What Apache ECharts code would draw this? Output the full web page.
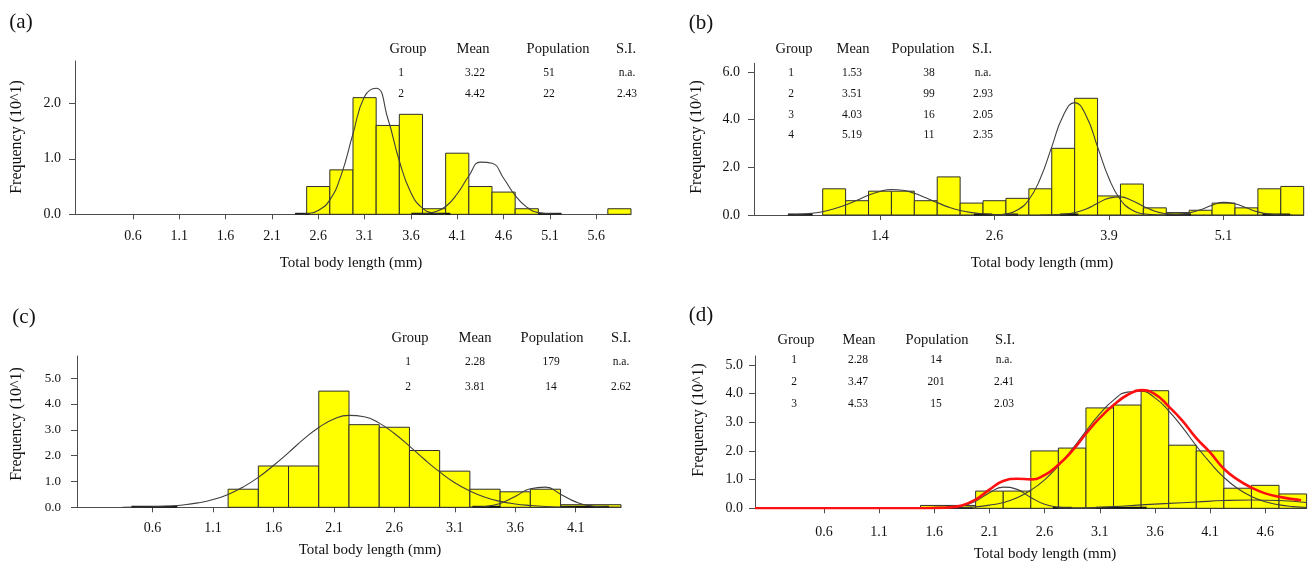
<!DOCTYPE html>
<html>
<head>
<meta charset="utf-8">
<script src="https://cdn.jsdelivr.net/npm/echarts@6/dist/echarts.min.js"></script>
<style>
  html, body { margin: 0; padding: 0; background: #fff; }
  #chart { width: 1312px; height: 562px; }
</style>
</head>
<body>
<div id="chart"></div>
<script>
// Length-frequency histograms of total body length (0.25 mm classes)
// with the fitted normal components of each cohort.
const binWidth = 0.25;

// ---- (a) ----
const binStartA = 2.5;
const freqA = [0.5, 0.8, 2.1, 1.6, 1.8, 0.1, 1.1, 0.5, 0.4, 0.1, 0, 0, 0, 0.1];
const xTicksA = [0.625, 1.125, 1.625, 2.125, 2.625, 3.125, 3.625, 4.125, 4.625, 5.125, 5.625];
const xLabelsA = ['0.6', '1.1', '1.6', '2.1', '2.6', '3.1', '3.6', '4.1', '4.6', '5.1', '5.6'];
const yTicksA = [0, 1, 2];
const tableA = [['1', '3.22', '51', 'n.a.'], ['2', '4.42', '22', '2.43']];
const curveA1 = [[2.375, 0], [2.5, 0.01], [2.625, 0.07], [2.75, 0.26], [2.875, 0.72], [3.0, 1.45], [3.125, 2.12], [3.25, 2.27], [3.375, 1.73], [3.5, 0.96], [3.625, 0.39], [3.75, 0.11], [3.875, 0.02], [4.0, 0]];
const curveA2 = [[3.625, 0], [3.75, 0.01], [3.875, 0.04], [4.0, 0.14], [4.125, 0.37], [4.25, 0.69], [4.375, 0.94], [4.5, 0.92], [4.625, 0.65], [4.75, 0.34], [4.875, 0.13], [5.0, 0.03], [5.125, 0.01], [5.25, 0]];
const tailsA = [[2.375, 2.53], [3.63, 4.05], [5.0, 5.25]];

// ---- (b) ----
const binStartB = 0.75;
const freqB = [1.1, 0.6, 1.0, 1.0, 0.6, 1.6, 0.5, 0.6, 0.7, 1.1, 2.8, 4.9, 0.8, 1.3, 0.3, 0.1, 0.2, 0.5, 0.3, 1.1, 1.2];
const xTicksB = [1.375, 2.625, 3.875, 5.125];
const xLabelsB = ['1.4', '2.6', '3.9', '5.1'];
const yTicksB = [0, 2, 4, 6];
const tableB = [['1', '1.53', '38', 'n.a.'], ['2', '3.51', '99', '2.93'], ['3', '4.03', '16', '2.05'], ['4', '5.19', '11', '2.35']];
const curveB1 = [[0.375, 0], [0.5, 0.03], [0.625, 0.07], [0.75, 0.14], [0.875, 0.26], [1.0, 0.42], [1.125, 0.62], [1.25, 0.83], [1.375, 0.99], [1.5, 1.07], [1.625, 1.04], [1.75, 0.91], [1.875, 0.72], [2.0, 0.52], [2.125, 0.33], [2.25, 0.19], [2.375, 0.10], [2.5, 0.05], [2.625, 0.02], [2.75, 0.01], [2.875, 0]];
const curveB2 = [[2.625, 0], [2.75, 0.05], [2.875, 0.21], [3.0, 0.64], [3.125, 1.53], [3.25, 2.86], [3.375, 4.17], [3.5, 4.72], [3.625, 4.17], [3.75, 2.86], [3.875, 1.53], [4.0, 0.64], [4.125, 0.21], [4.25, 0.05], [4.375, 0.01], [4.5, 0]];
const curveB3 = [[3.125, 0], [3.25, 0.01], [3.375, 0.03], [3.5, 0.10], [3.625, 0.25], [3.75, 0.49], [3.875, 0.71], [4.0, 0.76], [4.125, 0.61], [4.25, 0.37], [4.375, 0.16], [4.5, 0.05], [4.625, 0.01], [4.75, 0]];
const curveB4 = [[4.5, 0], [4.625, 0.02], [4.75, 0.09], [4.875, 0.22], [5.0, 0.41], [5.125, 0.53], [5.25, 0.47], [5.375, 0.30], [5.5, 0.13], [5.625, 0.04], [5.75, 0.01], [5.875, 0]];
const tailsB = [[0.37, 0.64], [2.4, 2.6], [2.75, 2.88], [3.34, 3.54], [4.5, 4.77], [5.55, 5.85]];

// ---- (c) ----
const binStartC = 1.25;
const freqC = [0.7, 1.6, 1.6, 4.5, 3.2, 3.1, 2.2, 1.4, 0.7, 0.6, 0.7, 0.1, 0.1];
const xTicksC = [0.625, 1.125, 1.625, 2.125, 2.625, 3.125, 3.625, 4.125];
const xLabelsC = ['0.6', '1.1', '1.6', '2.1', '2.6', '3.1', '3.6', '4.1'];
const yTicksC = [0, 1, 2, 3, 4, 5];
const tableC = [['1', '2.28', '179', 'n.a.'], ['2', '3.81', '14', '2.62']];
const curveC1 = [[0.375, 0], [0.5, 0.01], [0.625, 0.02], [0.75, 0.05], [0.875, 0.09], [1.0, 0.17], [1.125, 0.30], [1.25, 0.50], [1.375, 0.79], [1.5, 1.16], [1.625, 1.62], [1.75, 2.12], [1.875, 2.64], [2.0, 3.09], [2.125, 3.42], [2.25, 3.56], [2.375, 3.51], [2.5, 3.26], [2.625, 2.86], [2.75, 2.37], [2.875, 1.85], [3.0, 1.37], [3.125, 0.95], [3.25, 0.63], [3.375, 0.39], [3.5, 0.23], [3.625, 0.13], [3.75, 0.07], [3.875, 0.03], [4.0, 0.01], [4.125, 0]];
const curveC2 = [[3.25, 0], [3.375, 0.03], [3.5, 0.15], [3.625, 0.42], [3.75, 0.72], [3.875, 0.78], [4.0, 0.51], [4.125, 0.21], [4.25, 0.05], [4.375, 0.01], [4.5, 0]];
const tailsC = [[0.45, 0.83], [3.27, 3.5], [4.0, 4.4]];

// ---- (d) ----
const binStartD = 1.5;
const freqD = [0.1, 0.1, 0.6, 0.6, 2.0, 2.1, 3.5, 3.6, 4.1, 2.2, 2.0, 0.7, 0.8, 0.5];
const xTicksD = [0.625, 1.125, 1.625, 2.125, 2.625, 3.125, 3.625, 4.125, 4.625];
const xLabelsD = ['0.6', '1.1', '1.6', '2.1', '2.6', '3.1', '3.6', '4.1', '4.6'];
const yTicksD = [0, 1, 2, 3, 4, 5];
const tableD = [['1', '2.28', '14', 'n.a.'], ['2', '3.47', '201', '2.41'], ['3', '4.53', '15', '2.03']];
const curveD1 = [[1.625, 0], [1.75, 0.02], [1.875, 0.08], [2.0, 0.25], [2.125, 0.54], [2.25, 0.74], [2.375, 0.66], [2.5, 0.38], [2.625, 0.14], [2.75, 0.04], [2.875, 0.01], [3.0, 0]];
const curveD2 = [[1.625, 0], [1.75, 0.01], [1.875, 0.02], [2.0, 0.05], [2.125, 0.11], [2.25, 0.20], [2.375, 0.37], [2.5, 0.63], [2.625, 0.99], [2.75, 1.48], [2.875, 2.06], [3.0, 2.69], [3.125, 3.29], [3.25, 3.77], [3.375, 4.05], [3.5, 4.08], [3.625, 3.85], [3.75, 3.40], [3.875, 2.82], [4.0, 2.18], [4.125, 1.59], [4.25, 1.08], [4.375, 0.69], [4.5, 0.41], [4.625, 0.23], [4.75, 0.12], [4.875, 0.06], [5.0, 0.03]];
const curveD3 = [[2.75, 0], [3.0, 0.02], [3.25, 0.06], [3.5, 0.12], [3.75, 0.17], [4.0, 0.22], [4.25, 0.27], [4.5, 0.29], [4.75, 0.27], [5.0, 0.2]];
const curveDSum = [[0, 0], [1.5, 0], [1.625, 0.01], [1.75, 0.03], [1.875, 0.10], [2.0, 0.30], [2.125, 0.65], [2.25, 0.95], [2.375, 1.03], [2.5, 1.01], [2.625, 1.16], [2.75, 1.52], [2.875, 2.0], [3.0, 2.6], [3.125, 3.15], [3.25, 3.6], [3.375, 3.95], [3.5, 4.12], [3.625, 3.98], [3.75, 3.55], [3.875, 3.05], [4.0, 2.45], [4.125, 1.95], [4.25, 1.38], [4.375, 1.0], [4.5, 0.72], [4.625, 0.52], [4.75, 0.4], [4.875, 0.32], [4.95, 0.28]];
const tailsD = [[1.62, 1.97], [2.7, 2.87], [3.09, 3.55]];

// ---- shared text ----
const tableHeader = ['Group', 'Mean', 'Population', 'S.I.'];
const panelLabels = ['(a)', '(b)', '(c)', '(d)'];
const xTitle = 'Total body length (mm)';
const yTitle = 'Frequency (10^1)';

const FONT = '"Liberation Serif", "Times New Roman", serif';
const AXIS_COLOR = '#4d4d4d';
const TEXT_COLOR = '#111';

// Panel layout (pixels) and per-panel data
const panels = [
  {
    grid: { left: 75, top: 61, width: 556, height: 153.3 }, xMax: 6, yMax: 2.76,
    binStart: binStartA, freq: freqA, xTicks: xTicksA, xLabels: xLabelsA, yTicks: yTicksA,
    curves: [curveA1, curveA2], sum: null, tails: tailsA, table: tableA,
    xMargin: 15, yMargin: 14, yFont: 14,
    label: [21, 22], yName: [17, 137], xName: [351, 263],
    headY: 49, rowY: [73, 94], headX: [408, 473, 558, 626], valX: [401, 475, 549, 627]
  },
  {
    grid: { left: 754, top: 63.3, width: 549.7, height: 151.7 }, xMax: 6, yMax: 6.37,
    binStart: binStartB, freq: freqB, xTicks: xTicksB, xLabels: xLabelsB, yTicks: yTicksB,
    curves: [curveB1, curveB2, curveB3, curveB4], sum: null, tails: tailsB, table: tableB,
    xMargin: 14, yMargin: 14, yFont: 14,
    label: [701, 23], yName: [697, 137], xName: [1042, 263],
    headY: 49, rowY: [73, 93.5, 114.5, 135], headX: [794, 853, 923, 982], valX: [791, 852, 929, 983]
  },
  {
    grid: { left: 77, top: 356, width: 544, height: 151.3 }, xMax: 4.5, yMax: 5.86,
    binStart: binStartC, freq: freqC, xTicks: xTicksC, xLabels: xLabelsC, yTicks: yTicksC,
    curves: [curveC1, curveC2], sum: null, tails: tailsC, table: tableC,
    xMargin: 14, yMargin: 16, yFont: 13,
    label: [24, 317], yName: [17, 424], xName: [370, 550],
    headY: 338, rowY: [362, 387], headX: [410, 475, 552, 621], valX: [408, 475, 551, 621]
  },
  {
    grid: { left: 755, top: 356, width: 551.6, height: 152.3 }, xMax: 5, yMax: 5.31,
    binStart: binStartD, freq: freqD, xTicks: xTicksD, xLabels: xLabelsD, yTicks: yTicksD,
    curves: [curveD1, curveD2, curveD3], sum: curveDSum, tails: tailsD, table: tableD,
    xMargin: 17, yMargin: 12, yFont: 14,
    label: [701, 315], yName: [699, 420], xName: [1045, 554],
    headY: 340, rowY: [360, 382, 404], headX: [796, 859, 937, 1005], valX: [794, 858, 936, 1004]
  }
];

function renderBin(params, api) {
  const h = api.value(2);
  if (!h) return null;
  const topLeft = api.coord([api.value(0), h]);
  const bottomRight = api.coord([api.value(1), 0]);
  return {
    type: 'rect',
    shape: {
      x: topLeft[0], y: topLeft[1],
      width: bottomRight[0] - topLeft[0], height: bottomRight[1] - topLeft[1]
    },
    style: { fill: '#ffff00', stroke: '#2e2e2e', lineWidth: 1 }
  };
}

// flat tails of the fitted curves, drawn heavier along the baseline
function renderTail(params, api) {
  const a = api.coord([api.value(0), 0]);
  const b = api.coord([api.value(1), 0]);
  return {
    type: 'line',
    shape: { x1: a[0], y1: a[1] - 0.5, x2: b[0], y2: b[1] - 0.5 },
    style: { stroke: '#141414', lineWidth: 2 }
  };
}

function nearestLabel(ticks, labels, v) {
  let best = 0;
  for (let i = 1; i < ticks.length; i++) {
    if (Math.abs(ticks[i] - v) < Math.abs(ticks[best] - v)) best = i;
  }
  return labels[best];
}

const grids = [], xAxes = [], yAxes = [], series = [], graphics = [];

panels.forEach((p, i) => {
  grids.push(Object.assign({ containLabel: false }, p.grid));

  xAxes.push({
    type: 'value', gridIndex: i, min: 0, max: p.xMax,
    axisLine: { show: true, onZero: false, lineStyle: { color: AXIS_COLOR, width: 1 } },
    axisTick: { show: true, customValues: p.xTicks, length: 5, lineStyle: { color: AXIS_COLOR } },
    axisLabel: {
      customValues: p.xTicks, margin: p.xMargin,
      formatter: (v) => nearestLabel(p.xTicks, p.xLabels, v),
      fontFamily: FONT, fontSize: 14, color: TEXT_COLOR
    },
    splitLine: { show: false }
  });

  yAxes.push({
    type: 'value', gridIndex: i, min: 0, max: p.yMax,
    axisLine: { show: true, onZero: false, lineStyle: { color: AXIS_COLOR, width: 1 } },
    axisTick: { show: true, customValues: p.yTicks, length: 6, lineStyle: { color: AXIS_COLOR } },
    axisLabel: {
      customValues: p.yTicks, margin: p.yMargin,
      formatter: (v) => Number(v).toFixed(1),
      fontFamily: FONT, fontSize: p.yFont, color: TEXT_COLOR
    },
    splitLine: { show: false }
  });

  // histogram bars
  series.push({
    type: 'custom', xAxisIndex: i, yAxisIndex: i, z: 2,
    renderItem: renderBin,
    encode: { x: [0, 1], y: 2 },
    data: p.freq.map((f, k) => [p.binStart + k * binWidth, p.binStart + (k + 1) * binWidth, f]),
    silent: true
  });

  // fitted normal components
  p.curves.forEach((c) => {
    series.push({
      type: 'line', xAxisIndex: i, yAxisIndex: i, z: 3,
      data: c, smooth: 0.5, showSymbol: false, symbol: 'none',
      lineStyle: { color: '#3f3f3f', width: 1.1 },
      silent: true, animation: false
    });
  });

  series.push({
    type: 'custom', xAxisIndex: i, yAxisIndex: i, z: 3,
    renderItem: renderTail,
    encode: { x: [0, 1] },
    data: p.tails,
    silent: true
  });

  // summed fit
  if (p.sum) {
    series.push({
      type: 'line', xAxisIndex: i, yAxisIndex: i, z: 4,
      data: p.sum, smooth: 0.5, showSymbol: false, symbol: 'none',
      lineStyle: { color: '#ff1010', width: 2.6 },
      silent: true, animation: false
    });
  }

  // panel letter
  graphics.push({
    type: 'text', x: p.label[0], y: p.label[1],
    style: { text: panelLabels[i], font: '21px ' + FONT, fill: TEXT_COLOR,
             align: 'center', verticalAlign: 'middle', textAlign: 'center', textVerticalAlign: 'middle' }
  });
  // axis titles
  graphics.push({
    type: 'text', x: p.yName[0], y: p.yName[1], rotation: Math.PI / 2,
    style: { text: yTitle, font: '16px ' + FONT, fill: TEXT_COLOR,
             align: 'center', verticalAlign: 'middle', textAlign: 'center', textVerticalAlign: 'middle' }
  });
  graphics.push({
    type: 'text', x: p.xName[0], y: p.xName[1],
    style: { text: xTitle, font: '15px ' + FONT, fill: TEXT_COLOR,
             align: 'center', verticalAlign: 'middle', textAlign: 'center', textVerticalAlign: 'middle' }
  });
  // cohort table
  tableHeader.forEach((h, k) => {
    graphics.push({
      type: 'text', x: p.headX[k], y: p.headY,
      style: { text: h, font: '14.5px ' + FONT, fill: TEXT_COLOR,
               align: 'center', verticalAlign: 'middle', textAlign: 'center', textVerticalAlign: 'middle' }
    });
  });
  p.table.forEach((row, r) => {
    row.forEach((cell, k) => {
      graphics.push({
        type: 'text', x: p.valX[k], y: p.rowY[r],
        style: { text: cell, font: '11.5px ' + FONT, fill: TEXT_COLOR,
                 align: 'center', verticalAlign: 'middle', textAlign: 'center', textVerticalAlign: 'middle' }
      });
    });
  });
});

const chart = echarts.init(document.getElementById('chart'), null, { renderer: 'canvas' });
chart.setOption({
  animation: false,
  backgroundColor: '#ffffff',
  grid: grids,
  xAxis: xAxes,
  yAxis: yAxes,
  series: series,
  graphic: { elements: graphics }
});
</script>
</body>
</html>
